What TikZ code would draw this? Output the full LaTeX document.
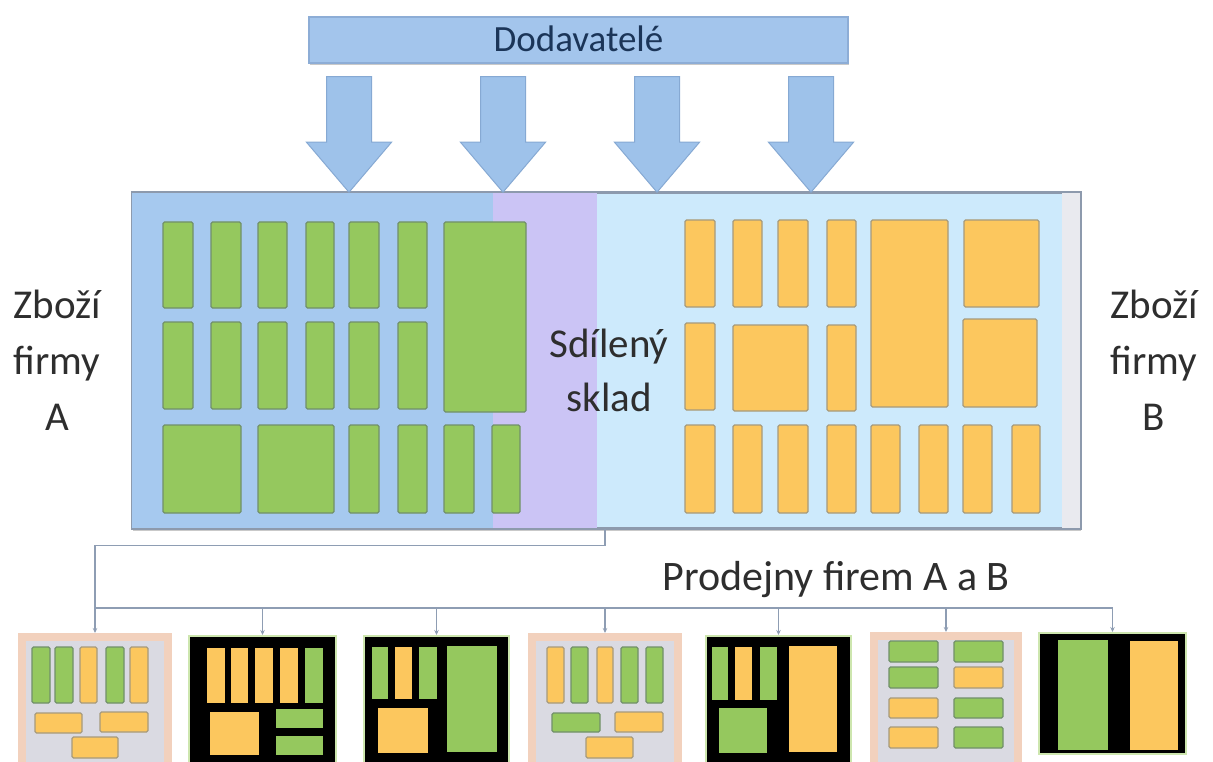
\documentclass[tikz,border=0pt]{standalone}
\usepackage{fontspec}
\setmainfont{Carlito}
\usetikzlibrary{arrows.meta,calc,shadows}

\definecolor{hdrfill}{HTML}{A3C5EC}
\definecolor{hdrline}{HTML}{8DADD6}
\definecolor{hdrtext}{HTML}{1B3558}
\definecolor{arrfill}{HTML}{9EC2EA}
\definecolor{arrline}{HTML}{86A9D3}
\definecolor{zoneA}{HTML}{A6C9EF}
\definecolor{zoneS}{HTML}{CBC4F5}
\definecolor{zoneB}{HTML}{CDEAFC}
\definecolor{zoneE}{HTML}{E9EAEF}
\definecolor{whline}{HTML}{8D9AAD}
\definecolor{shelfG}{HTML}{95C85E}
\definecolor{shelfGline}{HTML}{71906A}
\definecolor{shelfO}{HTML}{FCC75E}
\definecolor{shelfOline}{HTML}{A69A7C}
\definecolor{labeltext}{HTML}{2E2E2E}
\definecolor{linkc}{HTML}{8E9DB3}
\definecolor{shopbg}{HTML}{DADAE2}
\definecolor{shopedge}{HTML}{F2D1BD}
\definecolor{shopglow}{HTML}{CDE6AE}

\tikzset{
  hdr/.style={draw=hdrline, fill=hdrfill, line width=1.2pt, inner sep=0pt,
    minimum width=539pt, minimum height=46pt, text=hdrtext,
    font=\fontsize{37}{44}\selectfont, text height=24pt, text depth=0pt,
    drop shadow={shadow xshift=0.5pt, shadow yshift=-2.5pt, opacity=0.3, fill=black!70}},
  whbox/.style={draw=whline, fill=zoneB, line width=1.5pt, inner sep=0pt,
    minimum width=948pt, minimum height=335pt,
    drop shadow={shadow xshift=1pt, shadow yshift=-3pt, opacity=0.3, fill=black!70}},
  supplyarrow/.style={fill=arrfill, draw=arrline, line width=1pt, line join=miter},
  lbl/.style={text=labeltext, font=\fontsize{41}{54}\selectfont, inner sep=0pt, anchor=base},
  gbox/.style={fill=shelfG, draw=shelfGline, line width=1.2pt, rounded corners=1.5pt},
  obox/.style={fill=shelfO, draw=shelfOline, line width=1.2pt, rounded corners=1.5pt},
  gfill/.style={fill=shelfG},
  ofill/.style={fill=shelfO},
  shoplight/.style={fill=shopbg, draw=shopedge, line width=8pt, inner sep=0pt, anchor=north},
  shopdark/.style={fill=black, draw=shopglow, line width=2pt, inner sep=0pt, anchor=north},
  link/.style={draw=linkc, line width=1.4pt, -{Stealth[length=5pt,width=4.5pt]}},
  bus/.style={draw=linkc, line width=1.4pt}
}

\begin{document}
\begin{tikzpicture}[x=1pt,y=-1pt]
\useasboundingbox (0,0) rectangle (1213,762);
\clip (0,0) rectangle (1213,762);

% suppliers bar
\node[hdr] (sup) at (578.5,40) {Dodavatelé};

% shared warehouse with its three zones
\node[whbox] (wh) at (606,360.5) {};
\fill[zoneA] (wh.north west) rectangle (493,528);
\fill[zoneS] (493,193) rectangle (597,528);
\fill[zoneE] (1062,193) rectangle (wh.south east);
\draw[whline, line width=1.5pt] (wh.north west) rectangle (wh.south east);

% supply arrows from the bar down to the warehouse
\foreach \ax [count=\i] in {349,503,657,811} {
  \coordinate (col\i) at (\ax,0);
  \path (sup.south -| col\i) coordinate (top\i) (wh.north -| col\i) coordinate (tip\i);
  \draw[supplyarrow] ($(top\i)+(-22.5,13)$) -- ($(top\i)+(22.5,13)$)
     -- ($(tip\i)+(22.5,-50)$) -- ($(tip\i)+(42.5,-50)$) -- (tip\i)
     -- ($(tip\i)+(-42.5,-50)$) -- ($(tip\i)+(-22.5,-50)$) -- cycle;
}

% goods of company A (green)
\foreach \a/\b in {163/193,211/241,258/287,306/334,349/379,398/427} {
  \path[gbox] (\a,222) rectangle (\b,308);
  \path[gbox] (\a,322) rectangle (\b,409);
}
\path[gbox] (444,222) rectangle (526,412);
\foreach \a/\b in {163/241,258/334,349/379,398/427,444/474,492/520}
  \path[gbox] (\a,425) rectangle (\b,513);

% goods of company B (orange)
\foreach \a/\b in {685/715,733/762,778/808,827/856}
  \path[obox] (\a,220) rectangle (\b,307);
\path[obox] (871,220) rectangle (948,407);
\path[obox] (964,220) rectangle (1039,307);
\path[obox] (685,323) rectangle (715,410);
\path[obox] (733,325) rectangle (808,411);
\path[obox] (827,325) rectangle (856,411);
\path[obox] (963,319) rectangle (1037,407);
\foreach \a/\b in {685/715,733/762,778/808,827/856,871/900,919/948,963/992,1012/1040}
  \path[obox] (\a,425) rectangle (\b,513);

% labels
\node[lbl] (za1) at (57,318) {Zboží};
\node[lbl] (za2) at (57,374) {firmy};
\node[lbl] (za3) at (57,430) {A};
\node[lbl] (zb1) at (1154,318) {Zboží};
\node[lbl] (zb2) at (1154,374) {firmy};
\node[lbl] (zb3) at (1154,430) {B};
\node[lbl] (sd1) at (609,357) {Sdílený};
\node[lbl] (sd2) at (609,411) {sklad};
\node[lbl, font=\fontsize{42}{50}\selectfont] (shops) at (836,590) {Prodejny firem A a B};

% shops
\node[shoplight, minimum width=146pt, minimum height=135pt] (st1) at (95,633) {};
\node[shopdark,  minimum width=147pt, minimum height=135pt] (st2) at (262.5,635) {};
\node[shopdark,  minimum width=145pt, minimum height=135pt] (st3) at (436.5,635) {};
\node[shoplight, minimum width=146pt, minimum height=135pt] (st4) at (605,633) {};
\node[shopdark,  minimum width=145pt, minimum height=135pt] (st5) at (778.5,635) {};
\node[shoplight, minimum width=144pt, minimum height=135pt] (st6) at (946,632) {};
\node[shopdark,  minimum width=147pt, minimum height=121pt] (st7) at (1112.5,632) {};

% shop 1
\path[gbox] (32,647) rectangle (50,703);
\path[gbox] (55,647) rectangle (73,703);
\path[obox] (80,647) rectangle (97,703);
\path[gbox] (106,647) rectangle (124,703);
\path[obox] (130,647) rectangle (148,703);
\path[obox] (35,713) rectangle (82,733);
\path[obox] (100,712) rectangle (148,732);
\path[obox] (72,737) rectangle (118,758);

% shop 2
\foreach \a/\b in {207/225,231/248,255/273,280/298}
  \path[ofill] (\a,648) rectangle (\b,703);
\path[gfill] (305,648) rectangle (323,703);
\path[ofill] (210,712) rectangle (259,755);
\path[gfill] (276,709) rectangle (323,728);
\path[gfill] (276,736) rectangle (323,755);

% shop 3
\path[gfill] (372,647) rectangle (388,699);
\path[ofill] (395,647) rectangle (412,699);
\path[gfill] (419,647) rectangle (437,699);
\path[gfill] (447,646) rectangle (497,752);
\path[ofill] (378,708) rectangle (428,753);

% shop 4
\path[obox] (547,647) rectangle (564,703);
\path[gbox] (571,647) rectangle (588,703);
\path[obox] (597,647) rectangle (613,703);
\path[gbox] (621,647) rectangle (638,703);
\path[gbox] (646,647) rectangle (663,703);
\path[gbox] (552,713) rectangle (600,732);
\path[obox] (615,712) rectangle (663,732);
\path[obox] (586,737) rectangle (633,758);

% shop 5
\path[gfill] (712,647) rectangle (728,700);
\path[ofill] (735,647) rectangle (752,700);
\path[gfill] (760,647) rectangle (777,700);
\path[ofill] (789,646) rectangle (837,752);
\path[gfill] (719,708) rectangle (767,753);

% shop 6
\path[gbox] (889,641) rectangle (938,662);
\path[gbox] (889,667) rectangle (938,688);
\path[obox] (889,698) rectangle (938,718);
\path[obox] (889,727) rectangle (938,748);
\path[gbox] (954,641) rectangle (1003,662);
\path[obox] (954,667) rectangle (1003,688);
\path[gbox] (954,698) rectangle (1003,718);
\path[gbox] (954,727) rectangle (1003,748);

% shop 7
\path[gfill] (1058,640) rectangle (1108,750);
\path[ofill] (1130,641) rectangle (1178,750);

% distribution from the warehouse to the shops
\coordinate (drop) at (605,0);
\coordinate (busrow) at (0,608);
\draw[link] (wh.south -| drop) -- ++(0,17) -| (st1.north);
\draw[bus] (st1.north |- busrow) -- (st7.north |- busrow);
\foreach \s in {st2,st3,st4,st5,st6,st7}
  \draw[link] (\s.north |- busrow) -- (\s.north);
\end{tikzpicture}
\end{document}
